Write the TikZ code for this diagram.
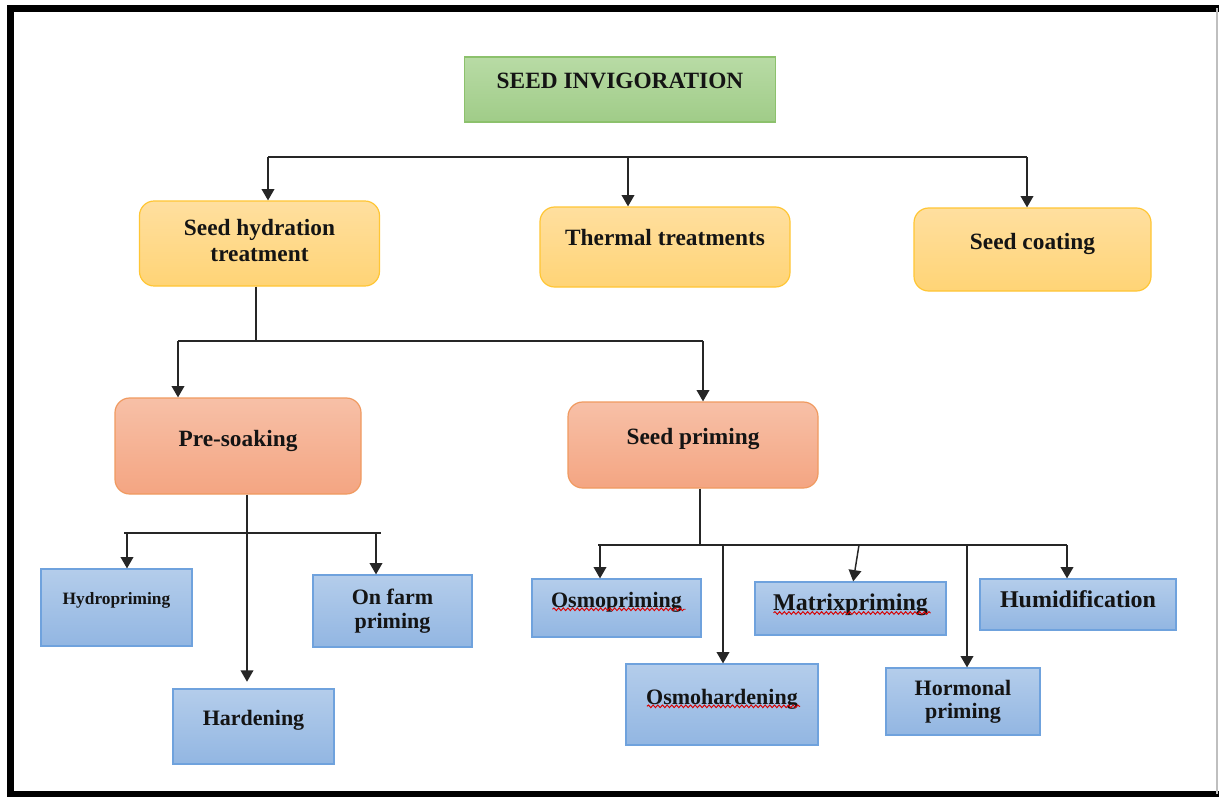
\documentclass[tikz,border=0pt]{standalone}
\usepackage{fontspec}
\setmainfont{Liberation Serif}
\usetikzlibrary{arrows.meta,calc,decorations.pathmorphing}
\definecolor{grnTop}{HTML}{B8DBA5}
\definecolor{grnBot}{HTML}{A0CC88}
\definecolor{grnLine}{HTML}{8CC16C}
\definecolor{ylwTop}{HTML}{FFDF9F}
\definecolor{ylwBot}{HTML}{FFD476}
\definecolor{ylwLine}{HTML}{FFC634}
\definecolor{salTop}{HTML}{F7C0A7}
\definecolor{salBot}{HTML}{F4A582}
\definecolor{salLine}{HTML}{F09A60}
\definecolor{bluTop}{HTML}{B4CDEB}
\definecolor{bluBot}{HTML}{92B6E2}
\definecolor{bluLine}{HTML}{6FA2DD}
\tikzset{
  box/.style={draw, line width=0.9pt, text=black!92, align=center, inner sep=2pt},
  lift/.style={text height=12pt, text depth=#1},
  greenbox/.style={box, draw=grnLine, top color=grnTop, bottom color=grnBot,
    font=\bfseries\fontsize{17.5}{21}\selectfont},
  yellowbox/.style={box, rounded corners=11pt, draw=ylwLine, top color=ylwTop, bottom color=ylwBot,
    font=\bfseries\fontsize{17.5}{19.5}\selectfont},
  salmonbox/.style={box, rounded corners=11pt, draw=salLine, top color=salTop, bottom color=salBot,
    font=\bfseries\fontsize{17.5}{19.5}\selectfont},
  bluebox/.style={box, draw=bluLine, top color=bluTop, bottom color=bluBot,
    font=\bfseries\fontsize{16.5}{18}\selectfont},
  link/.style={line width=1.1pt, draw=black!85},
  arr/.style={link, -{Triangle[length=8.5pt,width=9.5pt]}},
  squiggle/.style={draw=red!85!black, line width=0.7pt, decorate,
    decoration={snake, amplitude=1pt, segment length=3.5pt}}
}
\begin{document}
\begin{tikzpicture}[x=0.75pt,y=-0.75pt]
\useasboundingbox (0,0) rectangle (1219,796);
\fill[white] (0,0) rectangle (1219,796);
\draw[line width=5.5pt] (1219,8.5) -- (10.5,8.5) -- (10.5,794.5) -- (1219,794.5);
\draw[black!25, line width=1pt] (1217,8) -- (1217,794);

\node[greenbox, lift=13.2pt, minimum width=233.25pt, minimum height=48.75pt] (invig) at (620.0,089.5) {SEED INVIGORATION};

\node[yellowbox, text depth=4.5pt, minimum width=180.00pt, minimum height=63.75pt] (hydra) at (259.5,243.5) {Seed hydration\\treatment};
\node[yellowbox, lift=13.9pt, minimum width=187.50pt, minimum height=60.00pt] (therm) at (665.0,247.0) {Thermal treatments};
\node[yellowbox, lift=11.6pt, minimum width=177.75pt, minimum height=62.25pt] (coat) at (1032.5,249.5) {Seed coating};

\node[salmonbox, lift=10.9pt, minimum width=184.50pt, minimum height=72.00pt] (soak) at (238.0,446.0) {Pre-soaking};
\node[salmonbox, lift=12.4pt, minimum width=187.50pt, minimum height=64.50pt] (prime) at (693.0,445.0) {Seed priming};

\node[bluebox, lift=16.2pt, minimum width=113.25pt, minimum height=57.75pt, font=\bfseries\fontsize{13}{15}\selectfont] (hydro) at (116.5,607.5) {Hydropriming};
\node[bluebox, lift=13.9pt, minimum width=120.75pt, minimum height=56.25pt] (hard) at (253.5,726.5) {Hardening};
\node[bluebox, minimum width=119.25pt, minimum height=54.00pt] (farm) at (392.5,611.0) {On farm\\priming};
\node[bluebox, lift=13.1pt, minimum width=126.75pt, minimum height=43.50pt] (osmo) at (616.5,608.0) {Osmopriming};
\node[bluebox, lift=12.3pt, minimum width=144.00pt, minimum height=60.75pt] (osmoh) at (722.0,704.5) {Osmohardening};
\node[bluebox, lift=8.3pt, minimum width=143.25pt, minimum height=39.75pt, font=\bfseries\fontsize{18}{20}\selectfont] (mtx) at (850.5,608.5) {Matrixpriming};
\node[bluebox, minimum width=115.50pt, minimum height=50.25pt, font=\bfseries\fontsize{16.5}{17.25}\selectfont] (hormo) at (963.0,701.5) {Hormonal\\priming};
\node[bluebox, lift=6.9pt, minimum width=147.00pt, minimum height=38.25pt, font=\bfseries\fontsize{18}{20}\selectfont] (humid) at (1078.0,604.5) {Humidification};

\draw[squiggle] ($(osmo.base)+(-64,2)$) -- ($(osmo.base)+(69,2)$);
\draw[squiggle] ($(mtx.base)+(-77,2)$) -- ($(mtx.base)+(80,2)$);
\draw[squiggle] ($(osmoh.base)+(-75,2)$) -- ($(osmoh.base)+(78,2)$);

\coordinate (b1) at (268,157);
\coordinate (b2) at (628,157);
\coordinate (b3) at (1027,157);
\draw[link] (b1) -- (b3);
\draw[arr] (b1) -- (b1 |- hydra.north);
\draw[arr] (b2) -- (b2 |- therm.north);
\draw[arr] (b3) -- (b3 |- coat.north);

\coordinate (j1) at (256,341);
\coordinate (p1) at (178,341);
\coordinate (p2) at (703,341);
\draw[link] (hydra.south -| j1) -- (j1);
\draw[link] (p1) -- (p2);
\draw[arr] (p1) -- (p1 |- soak.north);
\draw[arr] (p2) -- (p2 |- prime.north);

\coordinate (a1) at (127,533);
\coordinate (a2) at (247,533);
\coordinate (a3) at (376,533);
\draw[link] (soak.south -| a2) -- (a2);
\draw[link] ($(a1)+(-3,0)$) -- ($(a3)+(5,0)$);
\draw[arr] (a1) -- (a1 |- hydro.north);
\draw[arr, shorten >=5pt] (a2) -- (a2 |- hard.north);
\draw[arr] (a3) -- (a3 |- farm.north);

\coordinate (j2) at (700,545);
\coordinate (c1) at (600,545);
\coordinate (c2) at (723,545);
\coordinate (c3) at (859,545);
\coordinate (c4) at (967,545);
\coordinate (c5) at (1067,545);
\draw[link] (prime.south -| j2) -- (j2);
\draw[link] ($(c1)+(-2,0)$) -- (c5);
\draw[arr] (c1) -- (c1 |- osmo.north);
\draw[arr] (c2) -- (c2 |- osmoh.north);
\draw[arr] (c3) -- ([xshift=2pt]mtx.north);
\draw[arr] (c4) -- (c4 |- hormo.north);
\draw[arr] (c5) -- (c5 |- humid.north);
\end{tikzpicture}
\end{document}
